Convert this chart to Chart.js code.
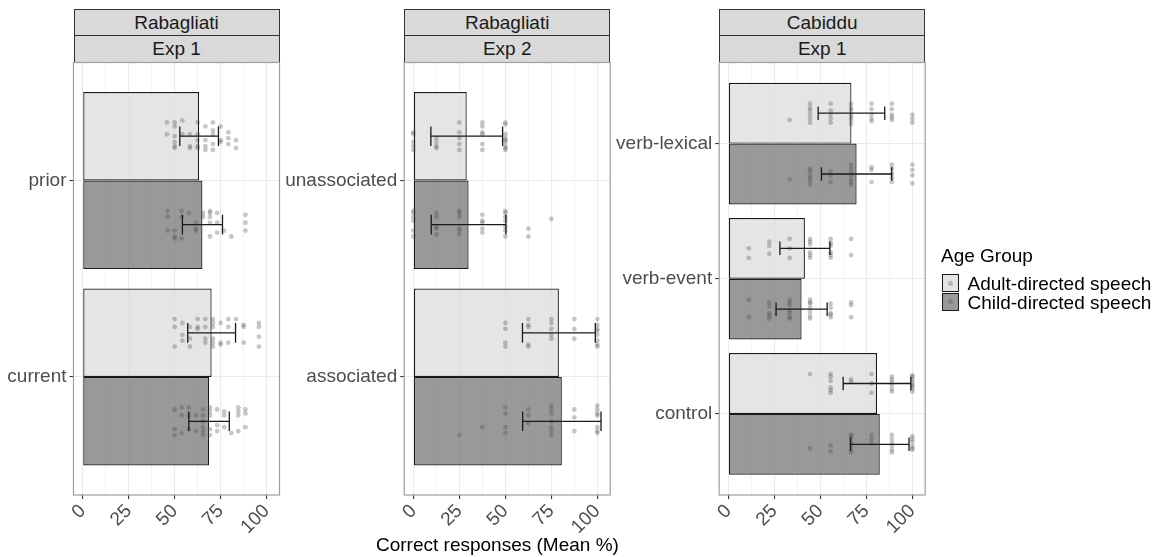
<!DOCTYPE html>
<html>
<head>
<meta charset="utf-8">
<script src="https://cdn.jsdelivr.net/npm/chart.js@4"></script>
<style>
  html, body { margin: 0; padding: 0; background: #ffffff; }
  body { width: 1161px; height: 557px; position: relative; overflow: hidden;
         font-family: "Liberation Sans", Arial, sans-serif; }
  canvas { position: absolute; left: 0; top: 0; }
  .strip { position: absolute; box-sizing: border-box; background: #d9d9d9;
           border: 1px solid #333333; color: #1a1a1a; font-size: 19px;
           display: flex; align-items: center; justify-content: center; }
  .txt { position: absolute; font-size: 19px; line-height: 19px; white-space: nowrap; color: #000; }
  .key { position: absolute; box-sizing: border-box; width: 17px; height: 18px;
         border: 1px solid #1a1a1a; }
  .key span { position: absolute; left: 50%; top: 50%; width: 5px; height: 5px; margin: -2.5px 0 0 -2.5px;
              border-radius: 50%; background: rgba(70,70,70,0.3); }
</style>
</head>
<body>
<script>
// ---- data -------------------------------------------------------------
const groups = ['Adult-directed speech', 'Child-directed speech'];
const xTickValues = [0, 12.5, 25, 37.5, 50, 62.5, 75, 87.5, 100];

const stripStudy = ['Rabagliati', 'Rabagliati', 'Cabiddu'];
const stripExp = ['Exp 1', 'Exp 2', 'Exp 1'];

// Rabagliati, Exp 1
const p1Categories = ['prior', 'current'];
const p1AdultMean = [63.3, 70.1];
const p1AdultErr = [10.5, 13.0];
const p1ChildMean = [65.1, 68.7];
const p1ChildErr = [10.9, 11.0];
// individual scores: [score, vertical jitter in hundredths of a category]
const p1AdultScores = [
  [[45.8,-7],[45.8,-1],[50,-7],[50,-5],[50,0],[50,3],[50,5],[50,6],[54.2,-8],[54.2,-1],[58.3,-1],[58.3,5],[58.3,6],
   [62.5,-7],[62.5,-1],[62.5,2],[62.5,5],[62.5,6],[66.7,-5],[66.7,2],[66.7,5],[66.7,7],[70.8,-7],[70.8,-3],[70.8,-1],
   [70.8,4],[70.8,7],[75,-5],[75,2],[75,3],[79.2,-2],[79.2,1],[79.2,4],[83.3,2],[83.3,6]],
  [[50,-7],[50,-3],[50,7],[54.2,-5],[54.2,1],[54.2,4],[58.3,-3],[58.3,3],[58.3,7],[62.5,-7],[62.5,-3],[62.5,-2],
   [66.7,-7],[66.7,-3],[66.7,3],[66.7,5],[70.8,-7],[70.8,-5],[70.8,-3],[70.8,3],[70.8,5],[70.8,7],[75,-5],[75,5],[75,6],
   [79.2,-7],[79.2,-3],[79.2,5],[83.3,-7],[87.5,-4],[87.5,-3],[87.5,5],[95.8,-5],[95.8,-3],[95.8,2],[95.8,7]]
];
const p1ChildScores = [
  [[46.2,-7],[46.2,-4],[46.2,3],[50,3],[50,6],[50,7],[53.8,-7],[53.8,-4],[53.8,7],[57.7,-6],[61.5,-1],[61.5,2],[61.5,3],
   [65.4,-6],[65.4,-4],[69.2,-7],[69.2,-6],[69.2,-4],[69.2,-1],[69.2,6],[73.1,-6],[73.1,-1],[73.1,4],[76.9,3],[80.8,6],
   [88.5,-5],[88.5,-1],[88.5,3]],
  [[50,-6],[50,4],[50,7],[53.8,-7],[53.8,-3],[53.8,6],[57.7,-7],[57.7,-3],[57.7,4],[61.5,-3],[61.5,5],[65.4,-6],[65.4,-3],
   [65.4,0],[65.4,3],[65.4,5],[65.4,7],[69.2,-7],[69.2,-5],[69.2,-3],[69.2,4],[69.2,7],[73.1,-6],[73.1,2],[73.1,5],
   [76.9,-5],[76.9,-3],[76.9,3],[80.8,6],[84.6,-7],[84.6,-5],[84.6,-3],[84.6,5],[88.5,-6],[88.5,-4],[88.5,3]]
];

// Rabagliati, Exp 2
const p2Categories = ['unassociated', 'associated'];
const p2AdultMean = [29.0, 79.1];
const p2AdultErr = [19.5, 19.8];
const p2ChildMean = [30.0, 80.7];
const p2ChildErr = [20.3, 21.3];
const p2AdultScores = [
  [[0,-2],[0,-1],[0,3],[0,5],[0,7],[12.5,1],[12.5,3],[12.5,5],[12.5,6],[25,-7],[25,-2],[25,1],[25,4],[25,7],
   [37.5,-7],[37.5,-5],[37.5,-2],[37.5,-1],[37.5,4],[37.5,7],[50,-7],[50,-6],[50,-1],[50,1],[50,2],[50,3],[50,5],[50,6],[50,7]],
  [[50,-5],[50,-2],[50,5],[50,7],[62.5,-7],[62.5,-4],[62.5,-3],[62.5,6],[62.5,7],[75,-7],[75,-5],[75,-2],[75,1],[75,3],
   [87.5,-7],[87.5,-2],[87.5,3],[100,-7],[100,-4],[100,-2],[100,-1],[100,1],[100,4],[100,6],[100,7]]
];
const p2ChildScores = [
  [[0,-7],[0,-6],[0,-4],[0,-2],[0,3],[0,6],[12.5,-6],[12.5,-4],[12.5,1],[12.5,2],[12.5,5],[25,-7],[25,-6],[25,-4],
   [25,2],[25,3],[25,5],[37.5,-5],[37.5,-2],[37.5,-1],[37.5,2],[37.5,4],[50,-7],[50,-6],[50,-4],[50,-2],[50,1],[50,3],
   [50,6],[62.5,2],[62.5,6],[75,-3]],
  [[25,7],[37.5,3],[50,-7],[50,-4],[50,3],[50,6],[62.5,-6],[62.5,-3],[62.5,1],[75,-8],[75,-6],[75,-4],[75,0],[75,3],
   [75,5],[75,7],[87.5,-6],[87.5,-2],[87.5,5],[100,-8],[100,-6],[100,-4],[100,-3],[100,3],[100,5],[100,6]]
];

// Cabiddu, Exp 1
const p3Categories = ['verb-lexical', 'verb-event', 'control'];
const p3AdultMean = [66.9, 41.6, 80.8];
const p3AdultErr = [18.1, 13.6, 18.4];
const p3ChildMean = [69.7, 39.8, 82.3];
const p3ChildErr = [19.1, 13.9, 15.9];
const p3AdultScores = [
  [[33.3,5],[44.4,-7],[44.4,-4],[44.4,-2],[44.4,1],[44.4,4],[44.4,7],[55.6,-7],[55.6,-2],[55.6,1],[55.6,4],[55.6,7],
   [66.7,-7],[66.7,-4],[66.7,-2],[66.7,1],[66.7,3],[66.7,5],[66.7,8],[77.8,-7],[77.8,-3],[77.8,1],[77.8,4],[77.8,6],
   [88.9,-7],[88.9,-3],[88.9,1],[88.9,3],[88.9,5],[100,1],[100,4],[100,7]],
  [[11.1,0],[11.1,7],[22.2,-5],[22.2,-2],[22.2,4],[33.3,-7],[33.3,0],[33.3,7],[44.4,-7],[44.4,-5],[44.4,-3],[44.4,3],
   [44.4,5],[44.4,7],[55.6,-7],[55.6,-4],[55.6,-2],[55.6,3],[55.6,5],[55.6,7],[66.7,-7],[66.7,5]],
  [[44.4,-7],[55.6,-7],[55.6,-5],[55.6,-2],[55.6,3],[55.6,5],[55.6,7],[66.7,-3],[66.7,-1],[77.8,-7],[77.8,0],[77.8,7],
   [88.9,-5],[88.9,-3],[88.9,-1],[88.9,1],[88.9,4],[88.9,6],[100,-6],[100,-5],[100,-3],[100,-1],[100,1],[100,2],[100,4],[100,6]]
];
const p3ChildScores = [
  [[33.3,4],[44.4,-4],[44.4,-2],[44.4,1],[44.4,3],[44.4,5],[44.4,8],[55.6,-2],[55.6,1],[55.6,6],[66.7,-7],[66.7,-4],
   [66.7,-1],[66.7,1],[66.7,4],[66.7,6],[66.7,8],[77.8,-5],[77.8,-3],[77.8,6],[88.9,-7],[88.9,-4],[88.9,0],[88.9,3],
   [88.9,6],[100,-7],[100,-3],[100,1],[100,7]],
  [[11.1,-7],[11.1,6],[22.2,-5],[22.2,-2],[22.2,3],[22.2,5],[22.2,7],[33.3,-7],[33.3,-5],[33.3,-3],[33.3,1],[33.3,3],
   [33.3,6],[33.3,7],[44.4,-7],[44.4,-5],[44.4,-4],[44.4,-1],[44.4,2],[44.4,5],[44.4,7],[55.6,-4],[55.6,-1],[55.6,3],
   [55.6,4],[55.6,6],[66.7,-5],[66.7,-3],[66.7,6]],
  [[44.4,3],[55.6,1],[55.6,5],[66.7,-7],[66.7,-6],[66.7,-4],[66.7,-1],[66.7,1],[66.7,4],[66.7,6],[77.8,-7],[77.8,-4],
   [77.8,-1],[88.9,-7],[88.9,-4],[88.9,-1],[88.9,1],[88.9,4],[88.9,6],[100,-6],[100,-4],[100,-2],[100,1],[100,3],[100,4]]
];

// ---- layout & style ---------------------------------------------------
const PAGE_W = 1161, PAGE_H = 557;
const PANEL_LEFT = [73.5, 404.2, 719.2];
const PANEL_W = 206;
const PANEL_TOP = 62.5, PANEL_BOTTOM = 495;
const STRIP_TOP = 9;
const FONT = '"Liberation Sans", Arial, sans-serif';
const DODGE = 0.225;          // half of a dodged bar, in category units
const CAP = 0.1;              // error-bar cap height, in category units
const ADULT_FILL = 'rgba(222,222,222,0.8)';
const CHILD_FILL = 'rgba(128,128,128,0.8)';
const POINT_FILL = 'rgba(70,70,70,0.3)';
const EDGE = '#1a1a1a';

const panels = [
  { categories: p1Categories, adultMean: p1AdultMean, adultErr: p1AdultErr, childMean: p1ChildMean,
    childErr: p1ChildErr, adultScores: p1AdultScores, childScores: p1ChildScores },
  { categories: p2Categories, adultMean: p2AdultMean, adultErr: p2AdultErr, childMean: p2ChildMean,
    childErr: p2ChildErr, adultScores: p2AdultScores, childScores: p2ChildScores },
  { categories: p3Categories, adultMean: p3AdultMean, adultErr: p3AdultErr, childMean: p3ChildMean,
    childErr: p3ChildErr, adultScores: p3AdultScores, childScores: p3ChildScores }
];

// error bars centred on each bar, spanning mean +/- error
const errorBars = {
  id: 'errorBars',
  afterDatasetsDraw(chart) {
    const { ctx, scales: { x, y } } = chart;
    const capHalf = Math.abs(y.getPixelForValue(CAP / 2) - y.getPixelForValue(0));
    ctx.save();
    ctx.strokeStyle = EDGE;
    ctx.lineWidth = 1.3;
    chart.data.datasets.forEach((ds, di) => {
      if (!ds.errors) return;
      chart.getDatasetMeta(di).data.forEach((bar, k) => {
        const m = ds.data[k].x, e = ds.errors[k];
        const x0 = x.getPixelForValue(m - e), x1 = x.getPixelForValue(m + e), yc = bar.y;
        ctx.beginPath();
        ctx.moveTo(x0, yc); ctx.lineTo(x1, yc);
        ctx.moveTo(x0, yc - capHalf); ctx.lineTo(x0, yc + capHalf);
        ctx.moveTo(x1, yc - capHalf); ctx.lineTo(x1, yc + capHalf);
        ctx.stroke();
      });
    });
    ctx.restore();
  }
};

// rectangle round the plotting area
const panelFrame = {
  id: 'panelFrame',
  afterDraw(chart) {
    const a = chart.chartArea, ctx = chart.ctx;
    ctx.save();
    ctx.strokeStyle = '#9e9e9e';
    ctx.lineWidth = 1.2;
    ctx.strokeRect(a.left, a.top, a.right - a.left, a.bottom - a.top);
    ctx.restore();
  }
};

function jitterPoints(scores, shift) {
  return scores.flatMap((list, k) => list.map(([v, j]) => ({ x: v, y: k + 1 + shift + j / 100 })));
}

function buildPanel(i, p) {
  const left = PANEL_LEFT[i];

  // facet strips
  const s1 = document.createElement('div');
  s1.className = 'strip'; s1.textContent = stripStudy[i];
  Object.assign(s1.style, { left: left + 'px', width: PANEL_W + 'px', top: STRIP_TOP + 'px', height: '27px' });
  const s2 = document.createElement('div');
  s2.className = 'strip'; s2.textContent = stripExp[i];
  Object.assign(s2.style, { left: left + 'px', width: PANEL_W + 'px', top: (STRIP_TOP + 26) + 'px',
    height: (PANEL_TOP - STRIP_TOP - 26) + 'px' });
  document.body.appendChild(s1);
  document.body.appendChild(s2);

  const canvas = document.createElement('canvas');
  canvas.width = PAGE_W; canvas.height = PAGE_H;
  document.body.appendChild(canvas);

  const n = p.categories.length;
  new Chart(canvas, {
    type: 'bar',
    data: {
      datasets: [
        { type: 'scatter', data: jitterPoints(p.adultScores, -DODGE), pointRadius: 2.4,
          pointBackgroundColor: POINT_FILL, pointBorderWidth: 0, pointBorderColor: 'rgba(0,0,0,0)', order: 1 },
        { type: 'scatter', data: jitterPoints(p.childScores, DODGE), pointRadius: 2.4,
          pointBackgroundColor: POINT_FILL, pointBorderWidth: 0, pointBorderColor: 'rgba(0,0,0,0)', order: 1 },
        { type: 'bar', label: groups[0], data: p.adultMean.map((m, k) => ({ x: m, y: k + 1 })),
          errors: p.adultErr, backgroundColor: ADULT_FILL, borderColor: EDGE, borderWidth: 1.2,
          borderSkipped: false, categoryPercentage: 0.9, barPercentage: 1, order: 2 },
        { type: 'bar', label: groups[1], data: p.childMean.map((m, k) => ({ x: m, y: k + 1 })),
          errors: p.childErr, backgroundColor: CHILD_FILL, borderColor: EDGE, borderWidth: 1.2,
          borderSkipped: false, categoryPercentage: 0.9, barPercentage: 1, order: 2 }
      ]
    },
    options: {
      indexAxis: 'y',
      responsive: false,
      animation: false,
      events: [],
      layout: {
        padding: { left: 0, right: PAGE_W - (left + PANEL_W), top: PANEL_TOP, bottom: 0 }
      },
      plugins: { legend: { display: false }, tooltip: { enabled: false }, title: { display: false } },
      scales: {
        x: {
          type: 'linear', min: -5, max: 107, offset: false,
          afterBuildTicks: s => { s.ticks = xTickValues.map(v => ({ value: v })); },
          afterFit: s => { s.height = PAGE_H - PANEL_BOTTOM; s.paddingLeft = 0; s.paddingRight = 0; },
          border: { display: false },
          grid: {
            offset: false,
            color: '#ebebeb',
            lineWidth: c => (c.tick && c.tick.value % 25 === 0) ? 1.1 : 0.55,
            tickColor: c => (c.tick && c.tick.value % 25 === 0) ? '#333333' : 'rgba(0,0,0,0)',
            tickLength: 4, tickWidth: 1.1
          },
          ticks: {
            autoSkip: false, minRotation: 45, maxRotation: 45, padding: 1,
            color: '#4d4d4d', font: { family: FONT, size: 19 },
            callback: v => (v % 25 === 0 ? String(v) : '')
          }
        },
        y: {
          type: 'linear', min: 0.4, max: n + 0.6, reverse: true, offset: false,
          afterBuildTicks: s => { s.ticks = p.categories.map((_, k) => ({ value: k + 1 })); },
          afterFit: s => { s.width = left; s.paddingTop = 0; s.paddingBottom = 0; },
          border: { display: false },
          grid: { offset: false, color: '#ebebeb', lineWidth: 1.1, tickColor: '#333333', tickLength: 4, tickWidth: 1.1 },
          ticks: {
            autoSkip: false, padding: 3, color: '#4d4d4d', font: { family: FONT, size: 19 },
            callback: v => p.categories[Math.round(v) - 1]
          }
        }
      }
    },
    plugins: [errorBars, panelFrame]
  });
}

panels.forEach((p, i) => buildPanel(i, p));

// axis title
const xTitle = document.createElement('div');
xTitle.className = 'txt';
xTitle.textContent = 'Correct responses (Mean %)';
Object.assign(xTitle.style, { left: '376px', top: '535.4px' });
document.body.appendChild(xTitle);

// legend
const legendTitle = document.createElement('div');
legendTitle.className = 'txt';
legendTitle.textContent = 'Age Group';
Object.assign(legendTitle.style, { left: '941px', top: '246px' });
document.body.appendChild(legendTitle);

const keyFills = ['#e4e4e4', '#999999'];
groups.forEach((g, k) => {
  const key = document.createElement('div');
  key.className = 'key';
  key.style.left = '942px';
  key.style.top = (274 + 18.5 * k) + 'px';
  key.style.background = keyFills[k];
  key.appendChild(document.createElement('span'));
  document.body.appendChild(key);
  const lab = document.createElement('div');
  lab.className = 'txt';
  lab.textContent = g;
  Object.assign(lab.style, { left: '967.5px', top: (274.4 + 18.5 * k) + 'px' });
  document.body.appendChild(lab);
});
</script>
</body>
</html>
